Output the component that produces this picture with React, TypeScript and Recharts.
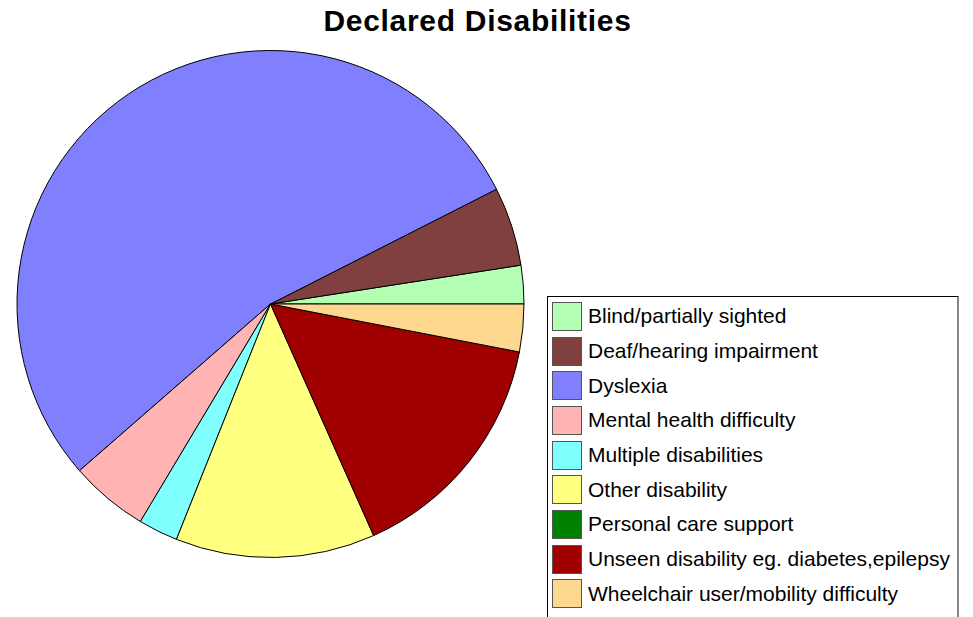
import { Cell, Legend, Pie, PieChart } from 'recharts'

const categories = [
  'Blind/partially sighted',
  'Deaf/hearing impairment',
  'Dyslexia',
  'Mental health difficulty',
  'Multiple disabilities',
  'Other disability',
  'Personal care support',
  'Unseen disability eg. diabetes,epilepsy',
  'Wheelchair user/mobility difficulty',
]

// share of students, in percent
const shares = [2.45, 5.03, 53.94, 5.0, 2.53, 12.72, 0, 15.3, 3.03]

const colors = [
  '#B3FFB3',
  '#804040',
  '#8080FF',
  '#FFB3B3',
  '#80FFFF',
  '#FFFF80',
  '#008000',
  '#A00000',
  '#FFD890',
]

const chartData = categories.map((name, i) => ({ name, value: shares[i] }))

const FONT = '"Liberation Sans", Arial, Helvetica, sans-serif'

function LegendBox() {
  return (
    <div
      style={{
        width: 412,
        height: 330,
        border: '1px solid #000',
        borderRightColor: '#888',
        borderRightWidth: 2,
        background: '#fff',
        boxSizing: 'border-box',
        paddingTop: 2,
        paddingLeft: 4,
        fontFamily: FONT,
      }}
    >
      {categories.map((name, i) => (
        <div key={name} style={{ display: 'flex', alignItems: 'center', height: 34.7 }}>
          <div
            style={{
              width: 30,
              height: 29,
              boxSizing: 'border-box',
              background: colors[i],
              border: '1px solid #555',
              flex: 'none',
            }}
          />
          <span style={{ marginLeft: 6, fontSize: 21, color: '#000', whiteSpace: 'nowrap' }}>{name}</span>
        </div>
      ))}
    </div>
  )
}

export default function App() {
  return (
    <div
      style={{
        position: 'absolute',
        left: 0,
        top: 0,
        width: 973,
        height: 617,
        overflow: 'hidden',
        background: '#fff',
      }}
    >
      <div
        style={{
          position: 'absolute',
          left: 0,
          width: 955,
          top: 4,
          textAlign: 'center',
          fontFamily: FONT,
          fontWeight: 'bold',
          fontSize: 30,
          letterSpacing: 0.7,
          color: '#000',
        }}
      >
        Declared Disabilities
      </div>
      <PieChart width={973} height={617} margin={{ top: 0, right: 0, bottom: 0, left: 0 }}>
        <Pie
          data={chartData}
          dataKey="value"
          nameKey="name"
          cx={270.5}
          cy={304}
          outerRadius={253.5}
          startAngle={0}
          endAngle={360}
          stroke="#000"
          strokeWidth={1}
          isAnimationActive={false}
        >
          {chartData.map((entry, index) => (
            <Cell key={`cell-${index}`} fill={colors[index]} />
          ))}
        </Pie>
        <Legend
          content={() => <LegendBox />}
          layout="vertical"
          wrapperStyle={{ left: 547, top: 296, width: 412, bottom: 'auto' }}
        />
      </PieChart>
    </div>
  )
}
